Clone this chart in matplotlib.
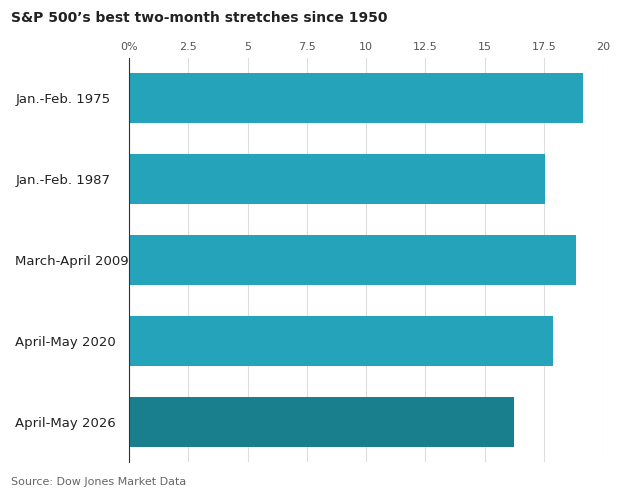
import matplotlib.pyplot as plt

labels = ["Jan.-Feb. 1975", "Jan.-Feb. 1987", "March-April 2009", "April-May 2020", "April-May 2026"]
values = [19.15, 17.55, 18.85, 17.9, 16.25]
colors = ["#24a3bb", "#24a3bb", "#24a3bb", "#24a3bb", "#1a7f8c"]
ticks = [0, 2.5, 5, 7.5, 10, 12.5, 15, 17.5, 20]
tick_labels = ["0%", "2.5", "5", "7.5", "10", "12.5", "15", "17.5", "20"]

fig = plt.figure(figsize=(6.21, 4.99), dpi=100)
ax = fig.add_axes([0.208, 0.074, 0.763, 0.81])
y = list(range(len(labels)))
ax.barh(y, values, height=0.62, color=colors, zorder=3)
ax.set_ylim(len(labels) - 0.5, -0.5)
ax.set_xlim(0, 20)
ax.set_xticks(ticks)
ax.set_xticklabels(tick_labels)
ax.xaxis.tick_top()
ax.tick_params(axis="x", length=0, labelsize=8, colors="#555555", pad=4)
ax.set_yticks(y)
ax.set_yticklabels(labels, ha="left")
ax.tick_params(axis="y", length=0, labelsize=9.5, colors="#222222", pad=82)
ax.grid(axis="x", color="#dddddd", linewidth=0.8, zorder=0)
for s in ["top", "right", "bottom"]:
    ax.spines[s].set_visible(False)
ax.spines["left"].set_color("#333333")
ax.spines["left"].set_zorder(4)

fig.text(0.018, 0.963, "S&P 500’s best two-month stretches since 1950", fontsize=10,
         fontweight="bold", color="#222222", va="center")
fig.text(0.018, 0.034, "Source: Dow Jones Market Data", fontsize=8, color="#666666", va="center")
fig.savefig("out.png", dpi=100)
